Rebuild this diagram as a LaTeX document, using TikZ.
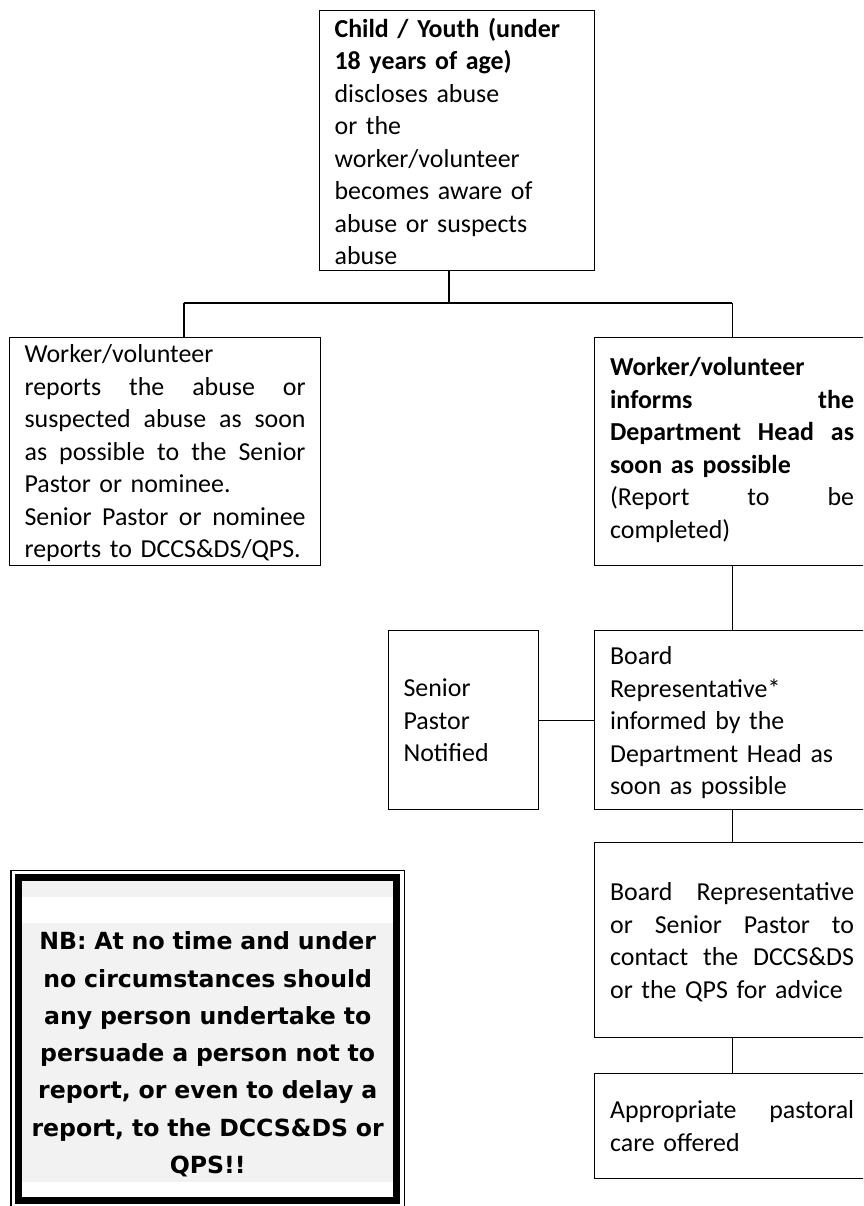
\documentclass[tikz,border=0pt]{standalone}
\usepackage{fontspec}
\setmainfont{Carlito}
\newfontfamily\nbfont{DejaVu Sans}
\usepackage{tikz}
\usetikzlibrary{positioning, calc}
\definecolor{nbgray}{RGB}{242,242,242}
\newcommand{\fillline}[2][244pt]{\leavevmode\hbox to #1{\spaceskip=0.226em plus 1fil\relax #2}}

\begin{document}
\begin{tikzpicture}[
    x=1pt, y=-1pt,
    box/.style={rectangle, draw, line width=1.2pt, anchor=north west, inner xsep=15pt, inner ysep=0pt, align=left, font=\fontsize{25.9}{32.5}\selectfont},
    col/.style={box, text width=244pt, minimum width=275pt},
    link/.style={line width=1.2pt},
    nbtext/.style={rectangle, fill=nbgray, anchor=north west, inner sep=0pt, text width=371.6pt, minimum width=371.6pt, align=center, font=\nbfont\bfseries\fontsize{23.6}{37.3}\selectfont},
]
\useasboundingbox (0,0) rectangle (863,1206);
\clip (0,0) rectangle (863,1206);

% top of the chart
\node[box, text width=245pt, text height=26.7pt, text depth=233.3pt] (child) at (319,10)
  {\textbf{Child / Youth (under}\\\textbf{18 years of age)}\\discloses abuse\\or the\\worker/volunteer\\becomes aware of\\abuse or suspects\\abuse};

% the two ways to report
\node[box, text width=281pt, minimum width=311pt, inner xsep=14pt, text height=25pt, text depth=203pt] (report) at (9,337)
  {Worker/volunteer\\\fillline[281pt]{reports the abuse or}\\\fillline[281pt]{suspected abuse as soon}\\\fillline[281pt]{as possible to the Senior}\\Pastor or nominee.\\\fillline[281pt]{Senior Pastor or nominee}\\\mbox{reports to DCCS\&DS/QPS.}};
\node[col, text height=38pt, text depth=190pt] (inform) at (594,337)
  {\textbf{Worker/volunteer}\\\fillline{\textbf{informs the}}\\\fillline{\textbf{Department Head as}}\\\textbf{soon as possible}\\\fillline{(Report to be}\\completed)};

% right hand column
\node[col, text height=34pt, text depth=145pt] (board) at (594,630)
  {Board\\Representative*\\informed by the\\Department Head as\\soon as possible};
\node[box, text width=120pt, minimum width=150pt, text height=66pt, text depth=113pt] (notify) at (388,630)
  {Senior\\Pastor\\Notified};
\node[col, text height=58pt, text depth=137pt] (contact) at (594,842)
  {\fillline{Board Representative}\\\fillline{or Senior Pastor to}\\\fillline{contact the DCCS\&DS}\\or the QPS for advice};
\node[col, text height=45pt, text depth=60pt] (care) at (594,1073)
  {\fillline{Appropriate pastoral}\\care offered};

% connectors
\coordinate (fork) at (449,303);
\coordinate (forkL) at (184,303);
\coordinate (forkR) at (inform.north |- fork);
\draw[link] (fork |- child.south) -- (fork);
\draw[link] (forkL) -- (forkR);
\draw[link] (forkL) -- (forkL |- report.north);
\draw[link] (forkR) -- (inform.north);
\draw[link] (inform.south) -- (board.north);
\draw[link] (notify.east) -- (notify.east -| board.west);
\draw[link] (board.south) -- (contact.north);
\draw[link] (contact.south) -- (care.north);

% NB box with its frame
\fill[nbgray] (21.7,880.7) rectangle (393.3,896.7);
\node[nbtext, text height=26.5pt, text depth=232.5pt] (nb) at (21.7,923)
  {NB: At no time and under\\no circumstances should\\any person undertake to\\persuade a person not to\\report, or even to delay a\\report, to the DCCS\&DS or\\QPS!!};
\draw[line width=1.8pt] (11,870.5) rectangle (404.5,1208);
\draw[line width=7pt] (18.3,877) rectangle (396.7,1200.5);
\end{tikzpicture}
\end{document}
